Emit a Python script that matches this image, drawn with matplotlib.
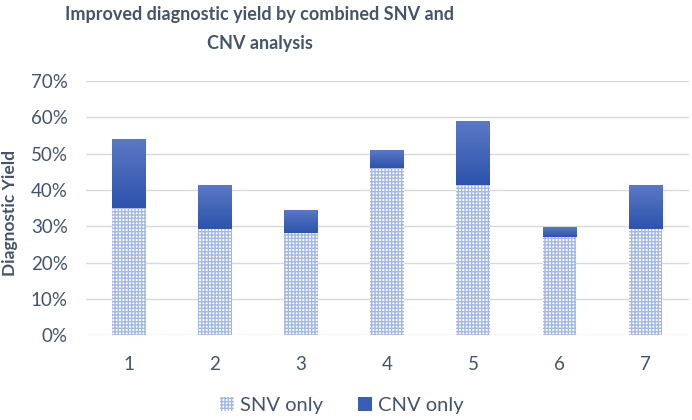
import matplotlib
matplotlib.use("Agg")
import matplotlib.pyplot as plt
import numpy as np
from matplotlib.colors import LinearSegmentedColormap
from matplotlib.ticker import PercentFormatter

# values (fractions)
categories = ["1", "2", "3", "4", "5", "6", "7"]
snv_only = [0.352, 0.294, 0.281, 0.462, 0.413, 0.270, 0.294]
cnv_only = [0.188, 0.120, 0.064, 0.048, 0.176, 0.027, 0.120]
y_ticks = [0.0, 0.1, 0.2, 0.3, 0.4, 0.5, 0.6, 0.7]

text_col = "#44546A"
plt.rcParams["font.family"] = ["Lato", "DejaVu Sans"]
plt.rcParams["hatch.linewidth"] = 1.0

fig = plt.figure(figsize=(6.92, 4.2), dpi=100)
ax = fig.add_axes([0.124, 0.2017, 0.871, 0.605])

x = np.arange(len(categories))
w = 0.39

snv = ax.bar(x, snv_only, w, color="white", edgecolor="#A4B8E4", hatch="+++++",
             linewidth=0, label="SNV only", zorder=2)
cnv = ax.bar(x, cnv_only, w, bottom=snv_only, color="#3A5DB6", linewidth=0,
             label="CNV only", zorder=2)

# vertical gradient on the CNV segments
cmap = LinearSegmentedColormap.from_list("cnv", ["#2D53AD", "#5B78C3"])
grad = np.linspace(0, 1, 64).reshape(-1, 1)
for r in cnv.patches:
    x0, y0 = r.get_x(), r.get_y()
    im = ax.imshow(grad, cmap=cmap, aspect="auto", origin="lower",
                   extent=[x0, x0 + r.get_width(), y0, y0 + r.get_height()],
                   zorder=3)
    im.set_clip_path(r)

ax.set_xlim(-0.5, len(categories) - 0.5)
ax.set_ylim(0, 0.7)
ax.set_yticks(y_ticks)
ax.yaxis.set_major_formatter(PercentFormatter(1.0, decimals=0))
ax.set_xticks(x)
ax.set_xticklabels(categories)
ax.grid(axis="y", color="#D9D9D9", linewidth=1, zorder=0)
ax.set_axisbelow(True)
for s in ax.spines.values():
    s.set_visible(False)
ax.tick_params(axis="both", length=0, labelsize=13.5, colors=text_col)
ax.tick_params(axis="y", pad=13)
ax.tick_params(axis="x", pad=15)

ax.set_ylabel("Diagnostic Yield", fontsize=12.5, fontweight="bold", color=text_col)
ax.yaxis.set_label_coords(-0.112, 0.48)

# title sits left of centre in the original
fig.suptitle("Improved diagnostic yield by combined SNV and\nCNV analysis",
             x=0.375, y=0.985, fontsize=13, fontweight="bold", color=text_col,
             linespacing=1.85)

fig.legend(handles=[snv, cnv], loc="lower center", bbox_to_anchor=(0.494, -0.028),
           ncol=2, frameon=False, fontsize=14.5, labelcolor=text_col,
           handlelength=0.7, handleheight=0.7, columnspacing=1.7,
           handletextpad=0.3)

fig.savefig("out.png", dpi=100)
